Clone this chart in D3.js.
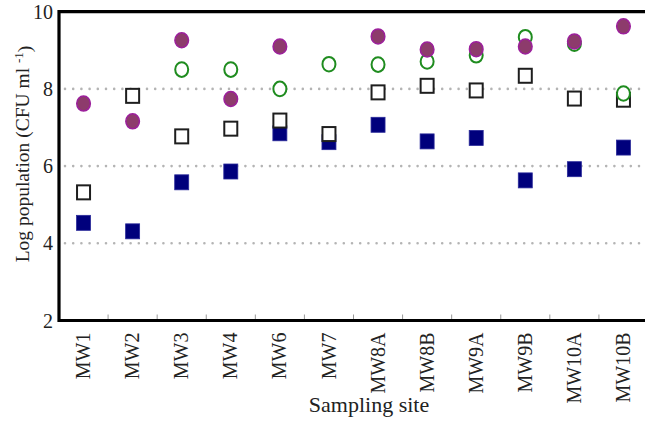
<!DOCTYPE html>
<html>
<head>
<meta charset="utf-8">
<script src="https://cdn.jsdelivr.net/npm/d3@7"></script>
<style>
  body { margin: 0; background: #fff; }
  text { font-family: "Liberation Serif", "Times New Roman", serif; fill: #222; }
</style>
</head>
<body>
<script>
// values (log CFU/ml), null = no point
var sites = ["MW1", "MW2", "MW3", "MW4", "MW6", "MW7", "MW8A", "MW8B", "MW9A", "MW9B", "MW10A", "MW10B"];
var purpleCircles = [7.62, 7.16, 9.26, 7.74, 9.10, null, 9.36, 9.02, 9.03, 9.10, 9.23, 9.62];
var greenCircles  = [null, null, 8.50, 8.50, 8.00, 8.64, 8.63, 8.71, 8.87, 9.34, 9.17, 7.88];
var openSquares   = [5.32, 7.82, 6.77, 6.97, 7.18, 6.83, 7.91, 8.08, 7.96, 8.34, 7.75, 7.72];
var navySquares   = [4.53, 4.31, 5.58, 5.86, 6.85, 6.62, 7.07, 6.64, 6.73, 5.63, 5.92, 6.48];
var yTicks = [2, 4, 6, 8, 10];
var gridTicks = [4, 6, 8];

var width = 645, height = 422;
var plotLeft = 59, plotRight = 648, plotTop = 11.7, plotBottom = 320.5;

var svg = d3.select("body").append("svg")
    .attr("width", width)
    .attr("height", height);

var x = d3.scaleBand()
    .domain(sites)
    .range([plotLeft, plotRight])
    .padding(0);

var y = d3.scaleLinear()
    .domain([2, 10])
    .range([plotBottom, plotTop]);

// dotted grid lines
svg.append("g").selectAll("line")
    .data(gridTicks)
    .enter().append("line")
    .attr("x1", plotLeft + 6)
    .attr("x2", plotRight)
    .attr("y1", function(d) { return y(d); })
    .attr("y2", function(d) { return y(d); })
    .attr("stroke", "#b4b4b4")
    .attr("stroke-width", 2.6)
    .attr("stroke-linecap", "round")
    .attr("stroke-dasharray", "0,8.2");

// small ticks between sites, pointing up from the bottom axis
svg.append("g").selectAll("line")
    .data(sites.slice(1))
    .enter().append("line")
    .attr("x1", function(d) { return x(d); })
    .attr("x2", function(d) { return x(d); })
    .attr("y1", plotBottom)
    .attr("y2", plotBottom - 6)
    .attr("stroke", "#999")
    .attr("stroke-width", 1);

var cx = function(i) { return x(sites[i]) + x.bandwidth() / 2; };

function pts(arr) {
  return arr.map(function(v, i) { return {i: i, v: v}; })
    .filter(function(d) { return d.v !== null; });
}

// navy filled squares
svg.append("g").selectAll("rect")
    .data(pts(navySquares))
    .enter().append("rect")
    .attr("x", function(d) { return cx(d.i) - 7; })
    .attr("y", function(d) { return y(d.v) - 7.5; })
    .attr("width", 14)
    .attr("height", 15)
    .attr("fill", "#00007c")
    .attr("stroke", "#2a2a9a")
    .attr("stroke-width", 0.8);

// open squares
svg.append("g").selectAll("rect")
    .data(pts(openSquares))
    .enter().append("rect")
    .attr("x", function(d) { return cx(d.i) - 6.5; })
    .attr("y", function(d) { return y(d.v) - 7; })
    .attr("width", 13)
    .attr("height", 14)
    .attr("fill", "#fff")
    .attr("stroke", "#1e1e1e")
    .attr("stroke-width", 2);

// green open circles
svg.append("g").selectAll("ellipse")
    .data(pts(greenCircles))
    .enter().append("ellipse")
    .attr("cx", function(d) { return cx(d.i); })
    .attr("cy", function(d) { return y(d.v); })
    .attr("rx", 6.5)
    .attr("ry", 7.3)
    .attr("fill", "#fff")
    .attr("stroke", "#1f8c1f")
    .attr("stroke-width", 2);

// purple filled circles
svg.append("g").selectAll("ellipse")
    .data(pts(purpleCircles))
    .enter().append("ellipse")
    .attr("cx", function(d) { return cx(d.i); })
    .attr("cy", function(d) { return y(d.v); })
    .attr("rx", 6.8)
    .attr("ry", 7.5)
    .attr("fill", "#8d3b6c")
    .attr("stroke", "#9c1f9c")
    .attr("stroke-width", 1.5);

// frame: left, top, bottom (right side is outside the window)
svg.append("path")
    .attr("d", "M" + plotRight + "," + plotTop + "H" + plotLeft + "V" + plotBottom + "H" + plotRight)
    .attr("fill", "none")
    .attr("stroke", "#000")
    .attr("stroke-width", 3.2);

// y tick labels
svg.append("g").selectAll("text")
    .data(yTicks)
    .enter().append("text")
    .attr("x", plotLeft - 6)
    .attr("y", function(d) { return y(d); })
    .attr("dy", "0.35em")
    .attr("text-anchor", "end")
    .style("font-size", "20px")
    .text(function(d) { return d; });

// x tick labels, rotated
svg.append("g").selectAll("text")
    .data(sites)
    .enter().append("text")
    .attr("transform", function(d) { return "translate(" + (x(d) + x.bandwidth() / 2) + "," + (plotBottom + 12) + ") rotate(-90)"; })
    .attr("dy", "0.33em")
    .attr("text-anchor", "end")
    .style("font-size", "20px")
    .text(function(d) { return d; });

// axis titles
svg.append("text")
    .attr("x", 369)
    .attr("y", 412)
    .attr("text-anchor", "middle")
    .style("font-size", "22px")
    .text("Sampling site");

var yTitle = svg.append("text")
    .attr("transform", "translate(28.5,154) rotate(-90)")
    .attr("text-anchor", "middle")
    .style("font-size", "19.5px");
yTitle.append("tspan").text("Log population (CFU ml ");
yTitle.append("tspan").attr("dy", "-0.45em").style("font-size", "13px").text("-1");
yTitle.append("tspan").attr("dy", "0.45em").text(")");
</script>
</body>
</html>
